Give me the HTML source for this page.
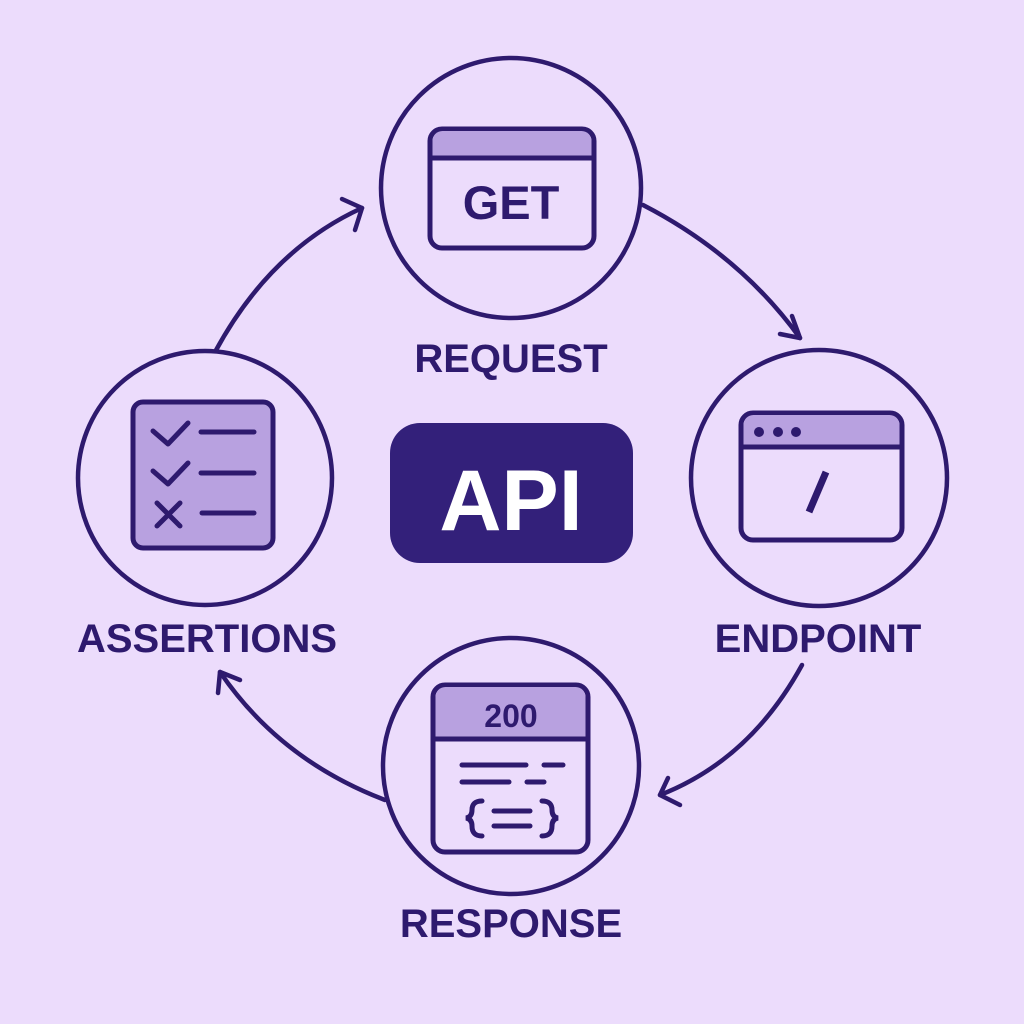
<!DOCTYPE html>
<html><head><meta charset="utf-8"><style>
html,body{margin:0;padding:0;background:#ecdcfc;}
svg{display:block}
text{font-family:"Liberation Sans",sans-serif;font-weight:bold;fill:#2e1a6e}
</style></head><body>
<svg width="1024" height="1024" viewBox="0 0 1024 1024" xmlns="http://www.w3.org/2000/svg">
<rect width="1024" height="1024" fill="#ecdcfc"/>
<g fill="none" stroke="#2e1a6e" stroke-width="4.5" stroke-linecap="round" stroke-linejoin="round">
 <path d="M215 352 Q270 250 362 208"/>
 <path d="M342 199 L362 208 L355 230"/>
 <path d="M643 205 Q740 255 800 338"/>
 <path d="M792 316 L800 338 L780 334"/>
 <path d="M802 665 Q750 760 660 795"/>
 <path d="M668 778 L660 795 L680 805"/>
 <path d="M385 800 Q280 760 220 672"/>
 <path d="M218 693 L220 672 L240 680"/>
 <circle cx="511" cy="188" r="130" fill="#ecdcfc"/>
 <circle cx="819" cy="478" r="128" fill="#ecdcfc"/>
 <circle cx="205" cy="478" r="127" fill="#ecdcfc"/>
 <circle cx="511" cy="766" r="128" fill="#ecdcfc"/>
</g>
<g stroke="#2e1a6e" stroke-width="5">
 <rect x="430" y="129" width="164" height="119" rx="12" fill="#ecdcfc"/>
 <path d="M432.5 158 V141 a10 10 0 0 1 10 -10 H581.5 a10 10 0 0 1 10 10 V158 Z" fill="#b8a1e0" stroke="none"/>
 <line x1="430" y1="158" x2="594" y2="158"/>
</g>
<text x="511" y="219" font-size="47" text-anchor="middle">GET</text>
<g stroke="#2e1a6e" stroke-width="5">
 <rect x="741" y="413" width="161" height="127" rx="12" fill="#ecdcfc"/>
 <path d="M743.5 447 V425 a10 10 0 0 1 10 -10 H889.5 a10 10 0 0 1 10 10 V447 Z" fill="#b8a1e0" stroke="none"/>
 <line x1="741" y1="447" x2="902" y2="447"/>
 <line x1="809" y1="512" x2="826" y2="472" stroke-width="7"/>
</g>
<g fill="#2e1a6e"><circle cx="759" cy="432" r="5"/><circle cx="778" cy="432" r="5"/><circle cx="796" cy="432" r="5"/></g>
<g stroke="#2e1a6e" stroke-width="5" fill="none" stroke-linecap="round" stroke-linejoin="round">
 <rect x="133" y="402" width="140" height="146" rx="10" fill="#b8a1e0"/>
 <path d="M153 431 L168 444 L188 423"/>
 <path d="M153 471 L168 484 L188 463"/>
 <path d="M157 503 L180 526 M180 503 L157 526"/>
 <line x1="201" y1="432" x2="254" y2="432"/>
 <line x1="201" y1="473" x2="254" y2="473"/>
 <line x1="202" y1="513" x2="254" y2="513"/>
</g>
<g stroke="#2e1a6e" stroke-width="5" fill="none" stroke-linecap="round">
 <rect x="433" y="685" width="155" height="167" rx="12" fill="#ecdcfc"/>
 <path d="M435.5 738 V697 a10 10 0 0 1 10 -10 H575.5 a10 10 0 0 1 10 10 V738 Z" fill="#b8a1e0" stroke="none"/>
 <line x1="433" y1="739" x2="588" y2="739"/>
 <line x1="462" y1="765" x2="526" y2="765"/>
 <line x1="544" y1="765" x2="563" y2="765"/>
 <line x1="462" y1="782" x2="509" y2="782"/>
 <line x1="527" y1="782" x2="544" y2="782"/>
 <line x1="494" y1="811" x2="530" y2="811"/>
 <line x1="494" y1="826" x2="530" y2="826"/>
 <path d="M482 801 Q472 801 472 810 Q472 817 466 818 Q472 819 472 826 Q472 836 482 836"/>
 <path d="M542 801 Q552 801 552 810 Q552 817 558 818 Q552 819 552 826 Q552 836 542 836"/>
</g>
<text x="511" y="727" font-size="32" text-anchor="middle">200</text>
<rect x="390" y="423" width="243" height="140" rx="30" fill="#33207a"/>
<text x="511" y="530" font-size="86" text-anchor="middle" style="fill:#fff">API</text>
<text x="511" y="372" font-size="40" text-anchor="middle">REQUEST</text>
<text x="818" y="652" font-size="40" text-anchor="middle">ENDPOINT</text>
<text x="207" y="652" font-size="40" text-anchor="middle">ASSERTIONS</text>
<text x="511" y="937" font-size="40" text-anchor="middle">RESPONSE</text>
</svg>
</body></html>
